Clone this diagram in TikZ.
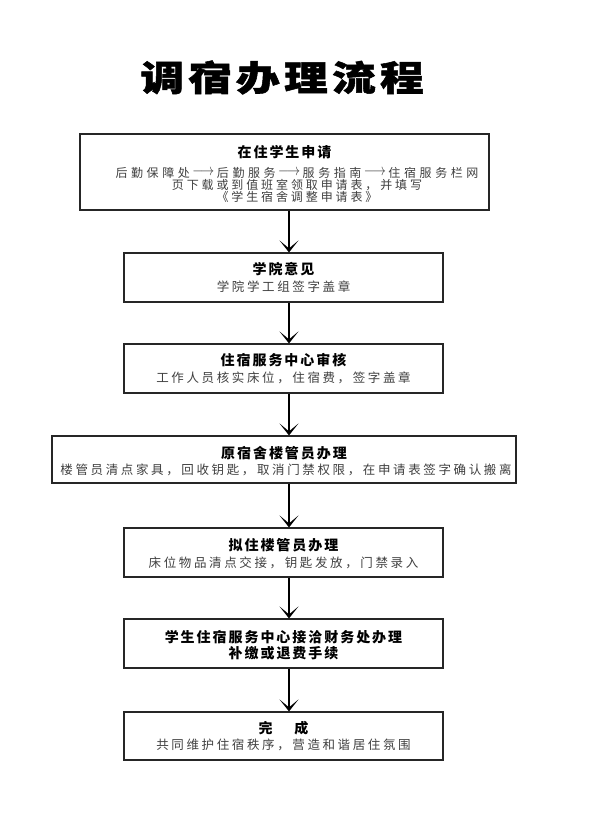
\documentclass[tikz,border=0pt]{standalone}
\usepackage{fontspec}
\usetikzlibrary{arrows.meta}
\newfontfamily\titlefont[FakeStretch=1.25,LetterSpace=12,BoldFeatures={FakeBold=1.5}]{Noto Sans CJK SC}
\newfontfamily\headfont[LetterSpace=14]{Noto Sans CJK SC}
\newfontfamily\bodyfont[LetterSpace=21]{Noto Sans CJK SC}
\newfontfamily\bodyfonta[LetterSpace=24]{Noto Sans CJK SC}
\newfontfamily\bodyfontb[LetterSpace=30]{Noto Sans CJK SC}
\newcommand{\myarr}{\raisebox{1.6pt}{\makebox[27pt]{\resizebox{22pt}{6pt}{$\longrightarrow$}}}}
\begin{document}
\begin{tikzpicture}[x=1pt,y=1pt,
  box/.style={draw=black!85, line width=1.2pt, inner sep=0pt},
  arr/.style={line width=2pt, -{Stealth[length=12pt,width=19pt,inset=8pt]}},
  head/.style={inner sep=0pt, align=center, font=\headfont\bfseries\fontsize{14}{16}\selectfont},
  body/.style={inner sep=0pt, align=center, text=black!75, font=\bodyfont\fontsize{12.5}{12}\selectfont},
  bodya/.style={inner sep=0pt, align=center, text=black!75, font=\bodyfonta\fontsize{12}{12}\selectfont}]
\useasboundingbox (0,0) rectangle (592,-839);
\fill[white] (0,0) rectangle (592,-839);
\coordinate (ax) at (289,0);
\node[inner sep=0pt] (title) at (282,-77.5) {\titlefont\bfseries\fontsize{35}{40}\selectfont 调宿办理流程};

\node[box, minimum width=409pt, minimum height=76pt] (b1) at (284.5,-172) {};
\node[head] (h1) at (284.5,-152.5) {在住学生申请};
\node[bodya] (s1) at (297,-184.5) {{\bodyfontb 后勤保障处\myarr 后勤服务\myarr 服务指南\myarr 住宿服务栏网}\\页下载或到值班室领取申请表，并填写\\《学生宿舍调整申请表》};

\node[box, minimum width=319pt, minimum height=49pt] (b2) at (283.5,-277.5) {};
\node[head] (h2) at (283.5,-269) {学院意见};
\node[body] (s2) at (283.5,-287) {学院学工组签字盖章};

\node[box, minimum width=319pt, minimum height=49pt] (b3) at (283.5,-368.5) {};
\node[head] (h3) at (283.5,-360) {住宿服务中心审核};
\node[body] (s3) at (283.5,-378) {工作人员核实床位，住宿费，签字盖章};

\node[box, minimum width=464pt, minimum height=47pt] (b4) at (284,-459.5) {};
\node[head] (h4) at (284,-453) {原宿舍楼管员办理};
\node[body] (s4) at (286,-470) {楼管员清点家具，回收钥匙，取消门禁权限，在申请表签字确认搬离};

\node[box, minimum width=319pt, minimum height=49pt] (b5) at (283.5,-552.5) {};
\node[head] (h5) at (283.5,-545) {拟住楼管员办理};
\node[body] (s5) at (283.5,-563) {床位物品清点交接，钥匙发放，门禁录入};

\node[box, minimum width=319pt, minimum height=49pt] (b6) at (283.5,-643.5) {};
\node[head] (h6) at (283.5,-645) {学生住宿服务中心接洽财务处办理\\补缴或退费手续};

\node[box, minimum width=319pt, minimum height=48pt] (b7) at (283.5,-736) {};
\node[head] (h7) at (283.5,-728) {完\hspace{22pt}成};
\node[body] (s7) at (283.5,-745) {共同维护住宿秩序，营造和谐居住氛围};

\draw[arr] (b1.south -| ax) -- (b2.north -| ax);
\draw[arr] (b2.south -| ax) -- (b3.north -| ax);
\draw[arr] (b3.south -| ax) -- (b4.north -| ax);
\draw[arr] (b4.south -| ax) -- (b5.north -| ax);
\draw[arr] (b5.south -| ax) -- (b6.north -| ax);
\draw[arr] (b6.south -| ax) -- (b7.north -| ax);
\end{tikzpicture}
\end{document}
